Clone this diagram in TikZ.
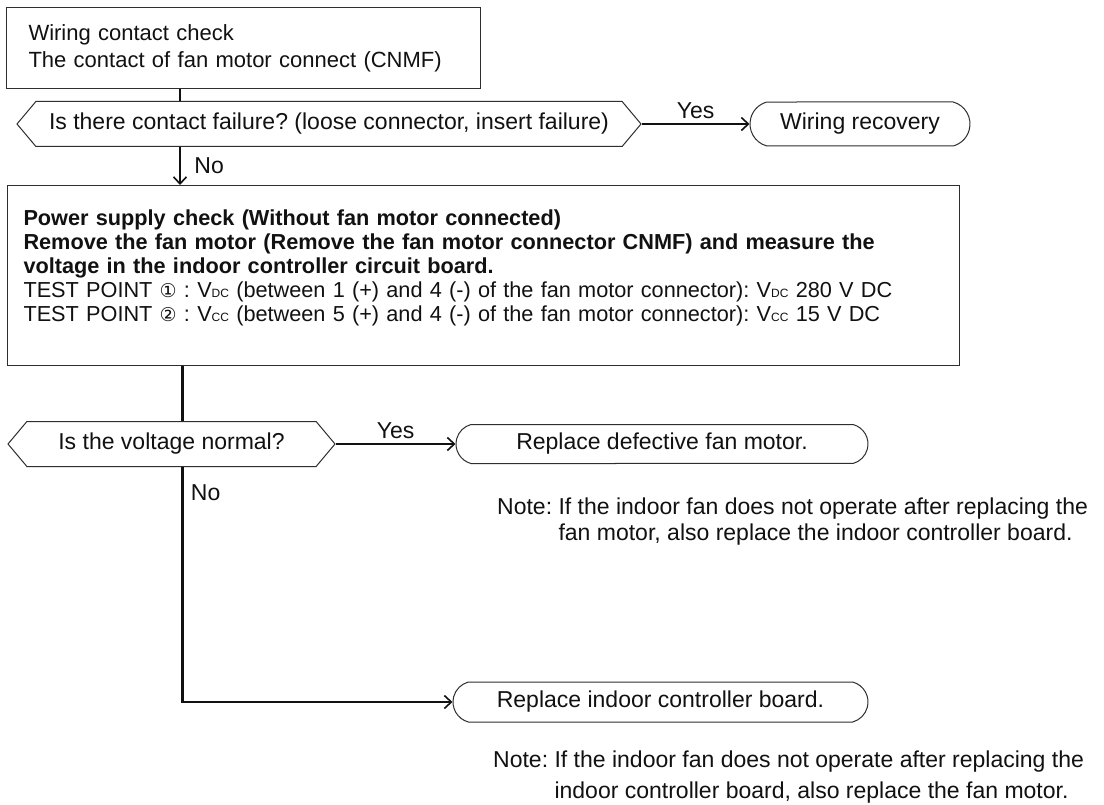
\documentclass[tikz,border=0pt]{standalone}
\usepackage{fontspec}
\setmainfont{Liberation Sans}
\newfontfamily\circfont{DejaVu Sans}
\usetikzlibrary{arrows.meta,shapes.misc,shapes.symbols}
\definecolor{Ink}{HTML}{111111}
\definecolor{Frame}{HTML}{2E2E2E}
\newcommand{\vsub}[1]{V{\fontsize{12}{12}\selectfont #1}}
\newcommand{\circno}[1]{{\circfont\fontsize{19}{19}\selectfont #1}}
\frenchspacing

\begin{document}
\begin{tikzpicture}[x=1pt,y=-1pt,>={Straight Barb[length=7pt,width=13pt,line width=1.6pt]},
 every node/.style={font=\fontsize{23}{27}\selectfont,text=Ink},
 box/.style={draw=Frame,line width=1pt,inner sep=0pt,anchor=north west,align=left},
 query/.style={draw=Frame,line width=1pt,signal,signal to=west and east,signal pointer angle=100,minimum height=45pt,inner sep=0pt},
 endbox/.style={draw=Frame,line width=1pt,rounded rectangle,rounded rectangle arc length=150,inner sep=0pt},
 flow/.style={line width=2.2pt,draw=Ink}]
\fill[white] (0,0) rectangle (1104,805); \useasboundingbox (0,0) rectangle (1104,805);
\coordinate (trunkA) at (180,0); \coordinate (trunkB) at (182.5,0);
\node[box,minimum width=474pt,minimum height=81pt,text width=430pt,inner xsep=22pt,font=\fontsize{22}{27}\selectfont] (wiring) at (6,7) {Wiring contact check\\The contact of fan motor connect (CNMF)};
\node[query,minimum width=624pt] (contact) at (329,124) {Is there contact failure? (loose connector, insert failure)};
\node[endbox,minimum width=220pt,minimum height=44pt] (recovery) at (860,124) {Wiring recovery};
\node[box,minimum width=952pt,minimum height=180pt,text width=920pt,inner xsep=16pt,font=\fontsize{21.7}{24}\selectfont] (supply) at (7,185) {\textbf{Power supply check (Without fan motor connected)}\\
 \textbf{Remove the fan motor (Remove the fan motor connector CNMF) and measure the}\\
 \textbf{voltage in the indoor controller circuit board.}\\
 TEST POINT \circno{①} : \vsub{DC} (between 1 (+) and 4 (-) of the fan motor connector): \vsub{DC} 280 V DC\\
 TEST POINT \circno{②} : \vsub{CC} (between 5 (+) and 4 (-) of the fan motor connector): \vsub{CC} 15 V DC\\[-4pt]\mbox{}};
\node[query,minimum width=327pt] (normal) at (171.5,444) {Is the voltage normal?};
\node[endbox,minimum width=412pt,minimum height=39pt] (motor) at (662,444) {Replace defective fan motor.};
\node[anchor=west,align=left,inner sep=0pt,font=\fontsize{23}{26}\selectfont] (note1) at (497,522) {Note: If the indoor fan does not operate after replacing the\\\phantom{Note:} fan motor, also replace the indoor controller board.};
\node[endbox,minimum width=415pt,minimum height=40pt] (board) at (660.5,702) {Replace indoor controller board.};
\node[anchor=west,align=left,inner sep=0pt,font=\fontsize{23}{31}\selectfont] (note2) at (493,777) {Note: If the indoor fan does not operate after replacing the\\\phantom{Note:} indoor controller board, also replace the fan motor.};
\draw[flow] (trunkA |- wiring.south) -- (trunkA |- contact.north);
\draw[flow,->] (trunkA |- contact.south) -- (trunkA |- supply.north) node[midway,right=10pt]{No};
\draw[flow,->] (contact.east) -- (recovery.west) node[midway,above=1pt]{Yes};
\draw[flow] (trunkB |- supply.south) -- (trunkB |- normal.north);
\draw[flow,->] (normal.east) -- (motor.west) node[midway,above=1pt]{Yes};
\draw[flow,->] (trunkB |- normal.south) |- (board.west) node[pos=.055,right=4pt]{No};
\end{tikzpicture}
\end{document}
